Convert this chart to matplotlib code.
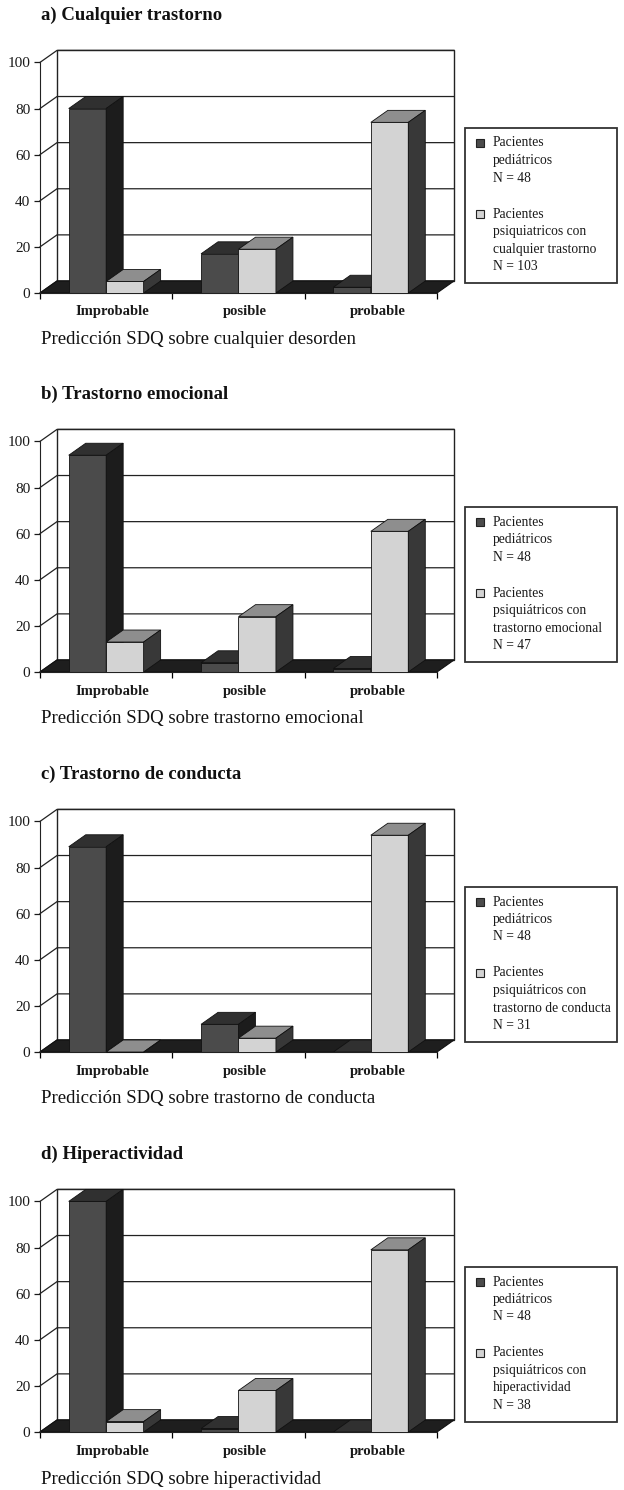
import numpy as np
import matplotlib.pyplot as plt
from matplotlib.patches import Polygon, Rectangle

plt.rcParams['font.family'] = ['Liberation Serif', 'DejaVu Serif']

# ------------------------------------------------------------
# Data: % of patients per SDQ prediction band
# ------------------------------------------------------------
categories = ['Improbable', 'posible', 'probable']

titles = ['a) Cualquier trastorno', 'b) Trastorno emocional',
          'c) Trastorno de conducta', 'd) Hiperactividad']
captions = ['Predicción SDQ sobre cualquier desorden',
            'Predicción SDQ sobre trastorno emocional',
            'Predicción SDQ sobre trastorno de conducta',
            'Predicción SDQ sobre hiperactividad']

pediatric = [
    [80, 17, 2.5],
    [94, 4, 1.5],
    [89, 12, 0],
    [100, 1.5, 0],
]
psychiatric = [
    [5, 19, 74],
    [13, 24, 61],
    [0, 6, 94],
    [4.5, 18, 79],
]

legend_ped = ['Pacientes', 'pediátricos', 'N = 48']
legend_psy = [
    ['Pacientes', 'psiquiatricos con', 'cualquier trastorno', 'N = 103'],
    ['Pacientes', 'psiquiátricos con', 'trastorno emocional', 'N = 47'],
    ['Pacientes', 'psiquiátricos con', 'trastorno de conducta', 'N = 31'],
    ['Pacientes', 'psiquiátricos con', 'hiperactividad', 'N = 38'],
]

# ------------------------------------------------------------
# Layout (pixels) and 3D look
# ------------------------------------------------------------
W, H = 624, 1490
panel_y0 = [293, 672, 1052, 1432]   # pixel row of the 0 level on the front axis
axis_left, axis_right = 40, 437
axis_height = 230.6

bar_w = 0.283
dx = 17 / ((axis_right - axis_left) / 3)   # depth offset, category units
dy = 12 / (axis_height / 100)             # depth offset, value units

faces = {
    0: dict(front='#4b4b4b', top='#303030', side='#1c1c1c'),
    1: dict(front='#d3d3d3', top='#8e8e8e', side='#383838'),
}
line_col = '#222222'


def fx(px):
    return px / W


def fy(py):
    return 1 - py / H


fig = plt.figure(figsize=(W / 100, H / 100), dpi=100)

for k in range(4):
    y0 = panel_y0[k]
    ax = fig.add_axes([fx(axis_left), fy(y0), (axis_right - axis_left) / W, axis_height / H])
    ax.set_xlim(0, 3)
    ax.set_ylim(0, 100)
    ax.patch.set_visible(False)
    for side in ['top', 'right']:
        ax.spines[side].set_visible(False)
    ax.spines['left'].set_color(line_col)
    ax.spines['bottom'].set_color(line_col)

    # back wall + gridlines running across the left wall
    wall = Polygon([(dx, dy), (3 + dx, dy), (3 + dx, 100 + dy), (dx, 100 + dy)],
                   closed=True, facecolor='white', edgecolor=line_col, lw=1.0,
                   zorder=0.5, clip_on=False)
    ax.add_patch(wall)
    for v in range(0, 101, 20):
        ax.plot([0, dx, 3 + dx], [v, v + dy, v + dy], color=line_col, lw=0.9,
                zorder=0.6, clip_on=False)

    # dark floor
    floor = Polygon([(0, 0), (3, 0), (3 + dx, dy), (dx, dy)], closed=True,
                    facecolor='#1e1e1e', edgecolor='#111111', lw=0.8,
                    zorder=1, clip_on=False)
    ax.add_patch(floor)

    # bars, dark series first so the light ones sit over its side faces
    for s, vals in enumerate([pediatric[k], psychiatric[k]]):
        c = faces[s]
        lefts = np.arange(3) + 0.5 - bar_w + s * bar_w
        bars = ax.bar(lefts, vals, width=bar_w, align='edge', color=c['front'],
                      edgecolor='#111111', lw=0.6, zorder=2 + s)
        for b in bars:
            b.set_clip_on(False)
        for l, v in zip(lefts, vals):
            top = Polygon([(l, v), (l + bar_w, v), (l + bar_w + dx, v + dy), (l + dx, v + dy)],
                          closed=True, facecolor=c['top'], edgecolor='#111111',
                          lw=0.6, zorder=2 + s, clip_on=False)
            side = Polygon([(l + bar_w, 0), (l + bar_w + dx, dy), (l + bar_w + dx, v + dy),
                            (l + bar_w, v)], closed=True, facecolor=c['side'],
                           edgecolor='#111111', lw=0.6, zorder=2 + s, clip_on=False)
            ax.add_patch(top)
            ax.add_patch(side)

    # axes ticks and labels
    ax.set_yticks(range(0, 101, 20))
    ax.tick_params(axis='y', direction='out', length=4, width=0.9, pad=3,
                   labelsize=11, colors='#1a1a1a')
    ax.set_xticks([0, 1, 2, 3])
    ax.set_xticklabels([])
    ax.tick_params(axis='x', which='major', direction='out', length=4, width=0.9)
    ax.set_xticks(np.arange(3) + 0.55, labels=categories, minor=True)
    ax.tick_params(axis='x', which='minor', length=0, pad=9, labelsize=10.5)
    for lbl in ax.get_xticklabels(minor=True):
        lbl.set_fontweight('bold')
        lbl.set_color('#1a1a1a')

    # title and caption
    fig.text(fx(41), fy(y0 - 278), titles[k], fontsize=13.5, fontweight='bold',
             va='center', ha='left', color='#111111')
    fig.text(fx(41), fy(y0 + 47), captions[k], fontsize=13.5,
             va='center', ha='left', color='#111111')

    # legend box
    fig.add_artist(Rectangle((fx(465), fy(y0 - 10)), (617 - 465) / W, 155 / H,
                             transform=fig.transFigure, fill=False,
                             edgecolor='#333333', lw=1.3))
    entries = [(legend_ped, y0 - 150, faces[0]['front']),
               (legend_psy[k], y0 - 79, faces[1]['front'])]
    for lines, ly, col in entries:
        fig.add_artist(Rectangle((fx(476), fy(ly + 4)), 8 / W, 8 / H,
                                 transform=fig.transFigure, facecolor=col,
                                 edgecolor='#222222', lw=0.8))
        for i, txt in enumerate(lines):
            fig.text(fx(493), fy(ly + i * 17.5), txt, fontsize=9.8,
                     va='center', ha='left', color='#1a1a1a')

fig.savefig('out.png', dpi=100)
